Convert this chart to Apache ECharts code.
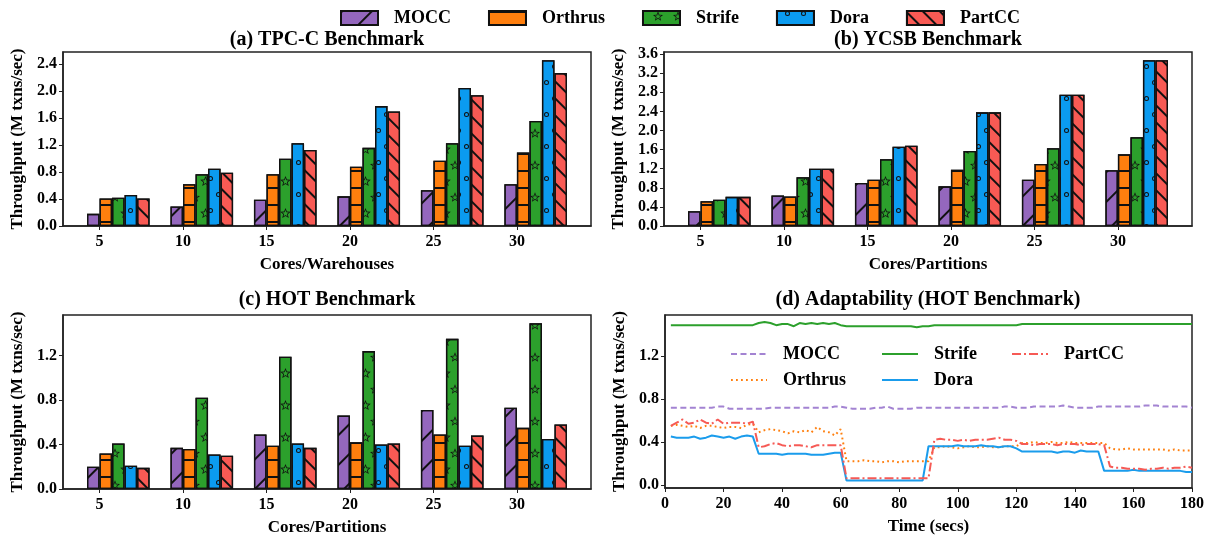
<!DOCTYPE html>
<html>
<head>
<meta charset="utf-8">
<script src="https://cdn.jsdelivr.net/npm/echarts@6/dist/echarts.min.js"></script>
<style>
  html, body { margin: 0; padding: 0; background: #fff; }
  #main { width: 1215px; height: 539px; }
</style>
</head>
<body>
<div id="main"></div>
<script>
var cores = [5, 10, 15, 20, 25, 30];
var systems = ['MOCC', 'Orthrus', 'Strife', 'Dora', 'PartCC'];

// (a) TPC-C, M txns/sec
var tpccMocc    = [0.18, 0.29, 0.39, 0.44, 0.53, 0.62];
var tpccOrthrus = [0.41, 0.62, 0.77, 0.88, 0.97, 1.09];
var tpccStrife  = [0.42, 0.77, 1.00, 1.16, 1.23, 1.56];
var tpccDora    = [0.46, 0.85, 1.23, 1.78, 2.05, 2.46];
var tpccPartcc  = [0.41, 0.79, 1.13, 1.70, 1.94, 2.27];

// (b) YCSB
var ycsbMocc    = [0.31, 0.64, 0.90, 0.83, 0.97, 1.17];
var ycsbOrthrus = [0.52, 0.62, 0.97, 1.18, 1.30, 1.50];
var ycsbStrife  = [0.55, 1.02, 1.40, 1.57, 1.63, 1.86];
var ycsbDora    = [0.61, 1.20, 1.66, 2.38, 2.75, 3.47];
var ycsbPartcc  = [0.61, 1.20, 1.68, 2.38, 2.75, 3.47];

// (c) HOT
var hotMocc    = [0.20, 0.37, 0.49, 0.66, 0.71, 0.73];
var hotOrthrus = [0.32, 0.36, 0.39, 0.42, 0.49, 0.55];
var hotStrife  = [0.41, 0.82, 1.19, 1.24, 1.35, 1.49];
var hotDora    = [0.21, 0.31, 0.41, 0.40, 0.39, 0.45];
var hotPartcc  = [0.19, 0.30, 0.37, 0.41, 0.48, 0.58];

// (d) adaptability, sampled every 2 secs
var timeSecs = [2,4,6,8,10,12,14,16,18,20,22,24,26,28,30,
  32,34,36,38,40,42,44,46,48,50,52,54,56,58,60,
  62,64,66,68,70,72,74,76,78,80,82,84,86,88,
  90,92,94,96,98,100,102,104,106,108,110,112,114,116,118,120,
  122,124,126,128,130,132,134,136,138,140,142,144,146,148,
  150,152,154,156,158,160,162,164,166,168,170,172,174,176,178,180];
var adaptMocc = [0.72,0.72,0.72,0.72,0.72,0.72,0.72,0.72,0.73,0.73,0.71,0.71,0.71,0.71,0.71,
  0.71,0.71,0.72,0.72,0.72,0.72,0.72,0.72,0.72,0.72,0.72,0.72,0.72,0.73,0.73,
  0.72,0.71,0.71,0.71,0.71,0.72,0.72,0.73,0.71,0.71,0.71,0.71,0.72,0.72,
  0.72,0.72,0.72,0.72,0.72,0.72,0.72,0.72,0.72,0.72,0.72,0.72,0.72,0.73,0.73,0.72,
  0.72,0.72,0.73,0.73,0.73,0.73,0.73,0.74,0.73,0.72,0.72,0.72,0.72,0.73,
  0.73,0.73,0.73,0.73,0.73,0.73,0.73,0.74,0.74,0.74,0.73,0.73,0.73,0.73,0.73,0.72];
var adaptOrthrus = [0.55,0.56,0.55,0.54,0.55,0.53,0.55,0.55,0.54,0.53,0.54,0.54,0.53,0.56,0.57,
  0.49,0.51,0.52,0.51,0.50,0.48,0.50,0.49,0.51,0.49,0.54,0.50,0.49,0.46,0.52,
  0.22,0.22,0.22,0.23,0.22,0.22,0.21,0.22,0.22,0.21,0.22,0.22,0.22,0.22,
  0.22,0.35,0.35,0.36,0.35,0.34,0.35,0.36,0.35,0.35,0.36,0.35,0.35,0.36,0.36,0.36,
  0.39,0.39,0.40,0.39,0.39,0.40,0.39,0.39,0.40,0.39,0.39,0.39,0.39,0.39,
  0.39,0.34,0.33,0.33,0.34,0.33,0.33,0.33,0.33,0.33,0.33,0.32,0.33,0.32,0.32,0.32];
var adaptStrife = [1.49,1.49,1.49,1.49,1.49,1.49,1.49,1.49,1.49,1.49,1.49,1.49,1.49,1.49,1.49,
  1.51,1.52,1.51,1.49,1.50,1.50,1.48,1.51,1.50,1.51,1.50,1.51,1.50,1.51,1.49,
  1.48,1.48,1.48,1.48,1.48,1.48,1.48,1.48,1.48,1.48,1.48,1.48,1.47,1.48,
  1.48,1.49,1.49,1.49,1.49,1.49,1.49,1.49,1.49,1.49,1.49,1.49,1.49,1.49,1.49,1.49,
  1.50,1.50,1.50,1.50,1.50,1.50,1.50,1.50,1.50,1.50,1.50,1.50,1.50,1.50,
  1.50,1.50,1.50,1.50,1.50,1.50,1.50,1.50,1.50,1.50,1.50,1.50,1.50,1.50,1.50,1.50];
var adaptDora = [0.45,0.44,0.44,0.44,0.45,0.43,0.44,0.46,0.45,0.44,0.45,0.43,0.45,0.46,0.45,
  0.29,0.29,0.29,0.29,0.28,0.29,0.29,0.29,0.29,0.28,0.28,0.28,0.29,0.30,0.30,
  0.04,0.04,0.04,0.04,0.04,0.04,0.04,0.04,0.04,0.04,0.04,0.04,0.04,0.04,
  0.36,0.36,0.36,0.36,0.36,0.37,0.36,0.36,0.36,0.37,0.36,0.36,0.35,0.36,0.36,0.34,
  0.31,0.31,0.31,0.31,0.31,0.31,0.30,0.31,0.31,0.30,0.32,0.31,0.31,0.31,
  0.13,0.13,0.13,0.13,0.13,0.14,0.13,0.13,0.13,0.13,0.13,0.13,0.13,0.13,0.12,0.12];
var adaptPartcc = [0.55,0.58,0.61,0.57,0.58,0.61,0.58,0.57,0.61,0.57,0.58,0.58,0.58,0.57,0.59,
  0.35,0.36,0.38,0.39,0.37,0.36,0.37,0.37,0.36,0.35,0.37,0.37,0.37,0.37,0.37,
  0.06,0.06,0.06,0.06,0.06,0.06,0.06,0.06,0.06,0.06,0.06,0.06,0.06,0.06,
  0.06,0.42,0.43,0.42,0.42,0.41,0.42,0.41,0.42,0.42,0.42,0.43,0.44,0.42,0.42,0.41,
  0.38,0.38,0.37,0.38,0.38,0.38,0.37,0.38,0.38,0.38,0.37,0.38,0.38,0.38,
  0.37,0.17,0.16,0.16,0.15,0.15,0.15,0.14,0.15,0.15,0.16,0.15,0.16,0.16,0.17,0.16];

var FONT = 'Liberation Serif';
var barColors = ['#9467bd', '#ff7f0e', '#2ca02c', '#0b9bf0', '#f85a54'];
var lineColors = ['#a383d2', '#ff7f0e', '#2ca02c', '#1a9cec', '#f65a55'];
var LINE = '-line';

// hollow star and ring paths for the hatch patterns
function starPath() {
  function pts(R, r, rev) {
    var p = [];
    for (var i = 0; i < 10; i++) {
      var a = -Math.PI / 2 + i * Math.PI / 5;
      var rr = i % 2 ? r : R;
      p.push([(10 + rr * Math.cos(a)).toFixed(2), (10 + rr * Math.sin(a)).toFixed(2)]);
    }
    if (rev) p.reverse();
    return 'M' + p.map(function (q) { return q.join(' '); }).join(' L') + ' Z';
  }
  return 'path://' + pts(10, 4.4, false) + ' ' + pts(6.4, 2.6, true);
}
var ringPath = 'path://M0 10 A10 10 0 1 0 20 10 A10 10 0 1 0 0 10 Z M4 10 A6 6 0 1 1 16 10 A6 6 0 1 1 4 10 Z';

var decals = [
  { symbol: 'rect', symbolSize: 1, color: '#111', dashArrayX: [1, 0], dashArrayY: [1.6, 19], rotation: -Math.PI / 4 },
  { symbol: 'rect', symbolSize: 1, color: '#111', dashArrayX: [1, 0], dashArrayY: [1.6, 14.2], rotation: 0 },
  { symbol: starPath(), symbolSize: 1, symbolKeepAspect: true, color: '#111', dashArrayX: [[11, 9], [0, 10, 10, 0]], dashArrayY: [10, 6] },
  { symbol: ringPath, symbolSize: 1, symbolKeepAspect: true, color: '#111', dashArrayX: [[5, 11], [0, 8, 5, 3]], dashArrayY: [5, 10.5] },
  { symbol: 'rect', symbolSize: 1, color: '#111', dashArrayX: [1, 0], dashArrayY: [1.6, 9.5], rotation: Math.PI / 4 }
];

var grids = [
  { left: 63, top: 52, width: 528, height: 174 },
  { left: 664, top: 52, width: 528, height: 174 },
  { left: 63, top: 315, width: 528, height: 174 },
  { left: 665, top: 315, width: 527, height: 173 }
];
grids.forEach(function (g) {
  g.show = true; g.borderColor = '#222'; g.borderWidth = 1.5; g.containLabel = false;
});

var nameStyle = { fontFamily: FONT, fontWeight: 'bold', fontSize: 17, color: '#000' };
var lineStyleAxis = { show: true, onZero: false, lineStyle: { color: '#222', width: 1.5 } };

// matplotlib-like x range around grouped bars
var xMin = -0.4375, xMax = 5.8875, groupShift = 0.225, barUnits = 0.15;

function barXAxis(idx, name) {
  return {
    type: 'value', gridIndex: idx, min: xMin, max: xMax,
    name: name, nameLocation: 'middle', nameGap: 30, nameTextStyle: nameStyle,
    axisLine: lineStyleAxis, splitLine: { show: false },
    axisTick: { show: true, length: 4, customValues: [0, 1, 2, 3, 4, 5], lineStyle: { color: '#222' } },
    axisLabel: { customValues: [0, 1, 2, 3, 4, 5], margin: 8, formatter: function (v) { return cores[v]; }, fontFamily: FONT, fontWeight: 'bold', fontSize: 16, color: '#000' }
  };
}
function yAxis(idx, min, max, ticks) {
  return {
    type: 'value', gridIndex: idx, min: min, max: max,
    name: 'Throughput (M txns/sec)', nameLocation: 'middle', nameRotate: 90, nameGap: 37, nameTextStyle: nameStyle,
    axisLine: lineStyleAxis, splitLine: { show: false },
    axisTick: { show: true, length: 4, customValues: ticks, lineStyle: { color: '#222' } },
    axisLabel: { customValues: ticks, margin: 6, formatter: function (v) { return v.toFixed(1); }, fontFamily: FONT, fontWeight: 'bold', fontSize: 16, color: '#000' }
  };
}

function barSeries(idx, k, vals) {
  var g = grids[idx];
  var bw = g.width / (xMax - xMin) * barUnits;
  return {
    name: systems[k], type: 'bar', xAxisIndex: idx, yAxisIndex: idx,
    barWidth: bw, barGap: '0%',
    data: vals.map(function (v, i) { return [i + groupShift, v]; }),
    itemStyle: { color: barColors[k], borderColor: '#111', borderWidth: 1.3, decal: decals[k] },
    emphasis: { disabled: true }
  };
}
var lineTypes = [[6, 3.5], [1.8, 3.2], 'solid', 'solid', [9, 3, 2, 3]];
var adaptData = [adaptMocc, adaptOrthrus, adaptStrife, adaptDora, adaptPartcc];
function lineSeries(k) {
  return {
    name: systems[k] + LINE, type: 'line', xAxisIndex: 3, yAxisIndex: 3,
    symbol: 'none',
    data: timeSecs.map(function (t, i) { return [t, adaptData[k][i]]; }),
    lineStyle: { color: lineColors[k], width: 2, type: lineTypes[k] },
    itemStyle: { color: lineColors[k] },
    emphasis: { disabled: true }
  };
}

var tpc = [tpccMocc, tpccOrthrus, tpccStrife, tpccDora, tpccPartcc];
var ycsb = [ycsbMocc, ycsbOrthrus, ycsbStrife, ycsbDora, ycsbPartcc];
var hot = [hotMocc, hotOrthrus, hotStrife, hotDora, hotPartcc];
function maxOf(arrs) { return Math.max.apply(null, arrs.map(function (a) { return Math.max.apply(null, a); })); }

var series = [];
[tpc, ycsb, hot].forEach(function (set, idx) {
  set.forEach(function (vals, k) { series.push(barSeries(idx, k, vals)); });
});
for (var k = 0; k < 5; k++) series.push(lineSeries(k));

var titleStyle = { fontFamily: FONT, fontWeight: 'bold', fontSize: 20, color: '#000' };
function title(text, x, y) {
  return { text: text, left: x, top: y, textAlign: 'center', padding: 0, textStyle: titleStyle };
}

var legendText = { fontFamily: FONT, fontWeight: 'bold', fontSize: 18, color: '#000', padding: [0, 0, 0, 11] };
function lineLegend(k, x, y) {
  return {
    data: [systems[k] + LINE], left: x, top: y, itemWidth: 36, itemHeight: 14,
    selectedMode: false, padding: 0,
    itemStyle: { opacity: 0 },
    formatter: function (n) { return n.replace(LINE, ''); },
    textStyle: legendText
  };
}

var option = {
  animation: false,
  backgroundColor: '#fff',
  title: [
    title('(a) TPC-C Benchmark', 327, 30),
    title('(b) YCSB Benchmark', 928, 30),
    title('(c) HOT Benchmark', 327, 290),
    title('(d) Adaptability (HOT Benchmark)', 928, 290)
  ],
  legend: [
    { data: systems, left: 340, top: 9, itemWidth: 37, itemHeight: 14, itemGap: 37, icon: 'rect',
      selectedMode: false, padding: 0, textStyle: legendText },
    lineLegend(0, 730, 345), lineLegend(2, 881, 345), lineLegend(4, 1011, 345),
    lineLegend(1, 730, 371), lineLegend(3, 881, 371)
  ],
  grid: grids,
  xAxis: [
    barXAxis(0, 'Cores/Warehouses'),
    barXAxis(1, 'Cores/Partitions'),
    barXAxis(2, 'Cores/Partitions'),
    {
      type: 'value', gridIndex: 3, min: 0, max: 180, interval: 20,
      name: 'Time (secs)', nameLocation: 'middle', nameGap: 30, nameTextStyle: nameStyle,
      axisLine: lineStyleAxis, splitLine: { show: false },
      axisTick: { show: true, length: 4, lineStyle: { color: '#222' } },
      axisLabel: { margin: 8, fontFamily: FONT, fontWeight: 'bold', fontSize: 16, color: '#000' }
    }
  ],
  yAxis: [
    yAxis(0, 0, maxOf(tpc) * 1.05, [0, 0.4, 0.8, 1.2, 1.6, 2.0, 2.4]),
    yAxis(1, 0, maxOf(ycsb) * 1.05, [0, 0.4, 0.8, 1.2, 1.6, 2.0, 2.4, 2.8, 3.2, 3.6]),
    yAxis(2, 0, maxOf(hot) * 1.05, [0, 0.4, 0.8, 1.2]),
    yAxis(3, -0.03, 1.585, [0, 0.4, 0.8, 1.2])
  ],
  series: series
};

var chart = echarts.init(document.getElementById('main'), null, { renderer: 'canvas' });
chart.setOption(option);
</script>
</body>
</html>
